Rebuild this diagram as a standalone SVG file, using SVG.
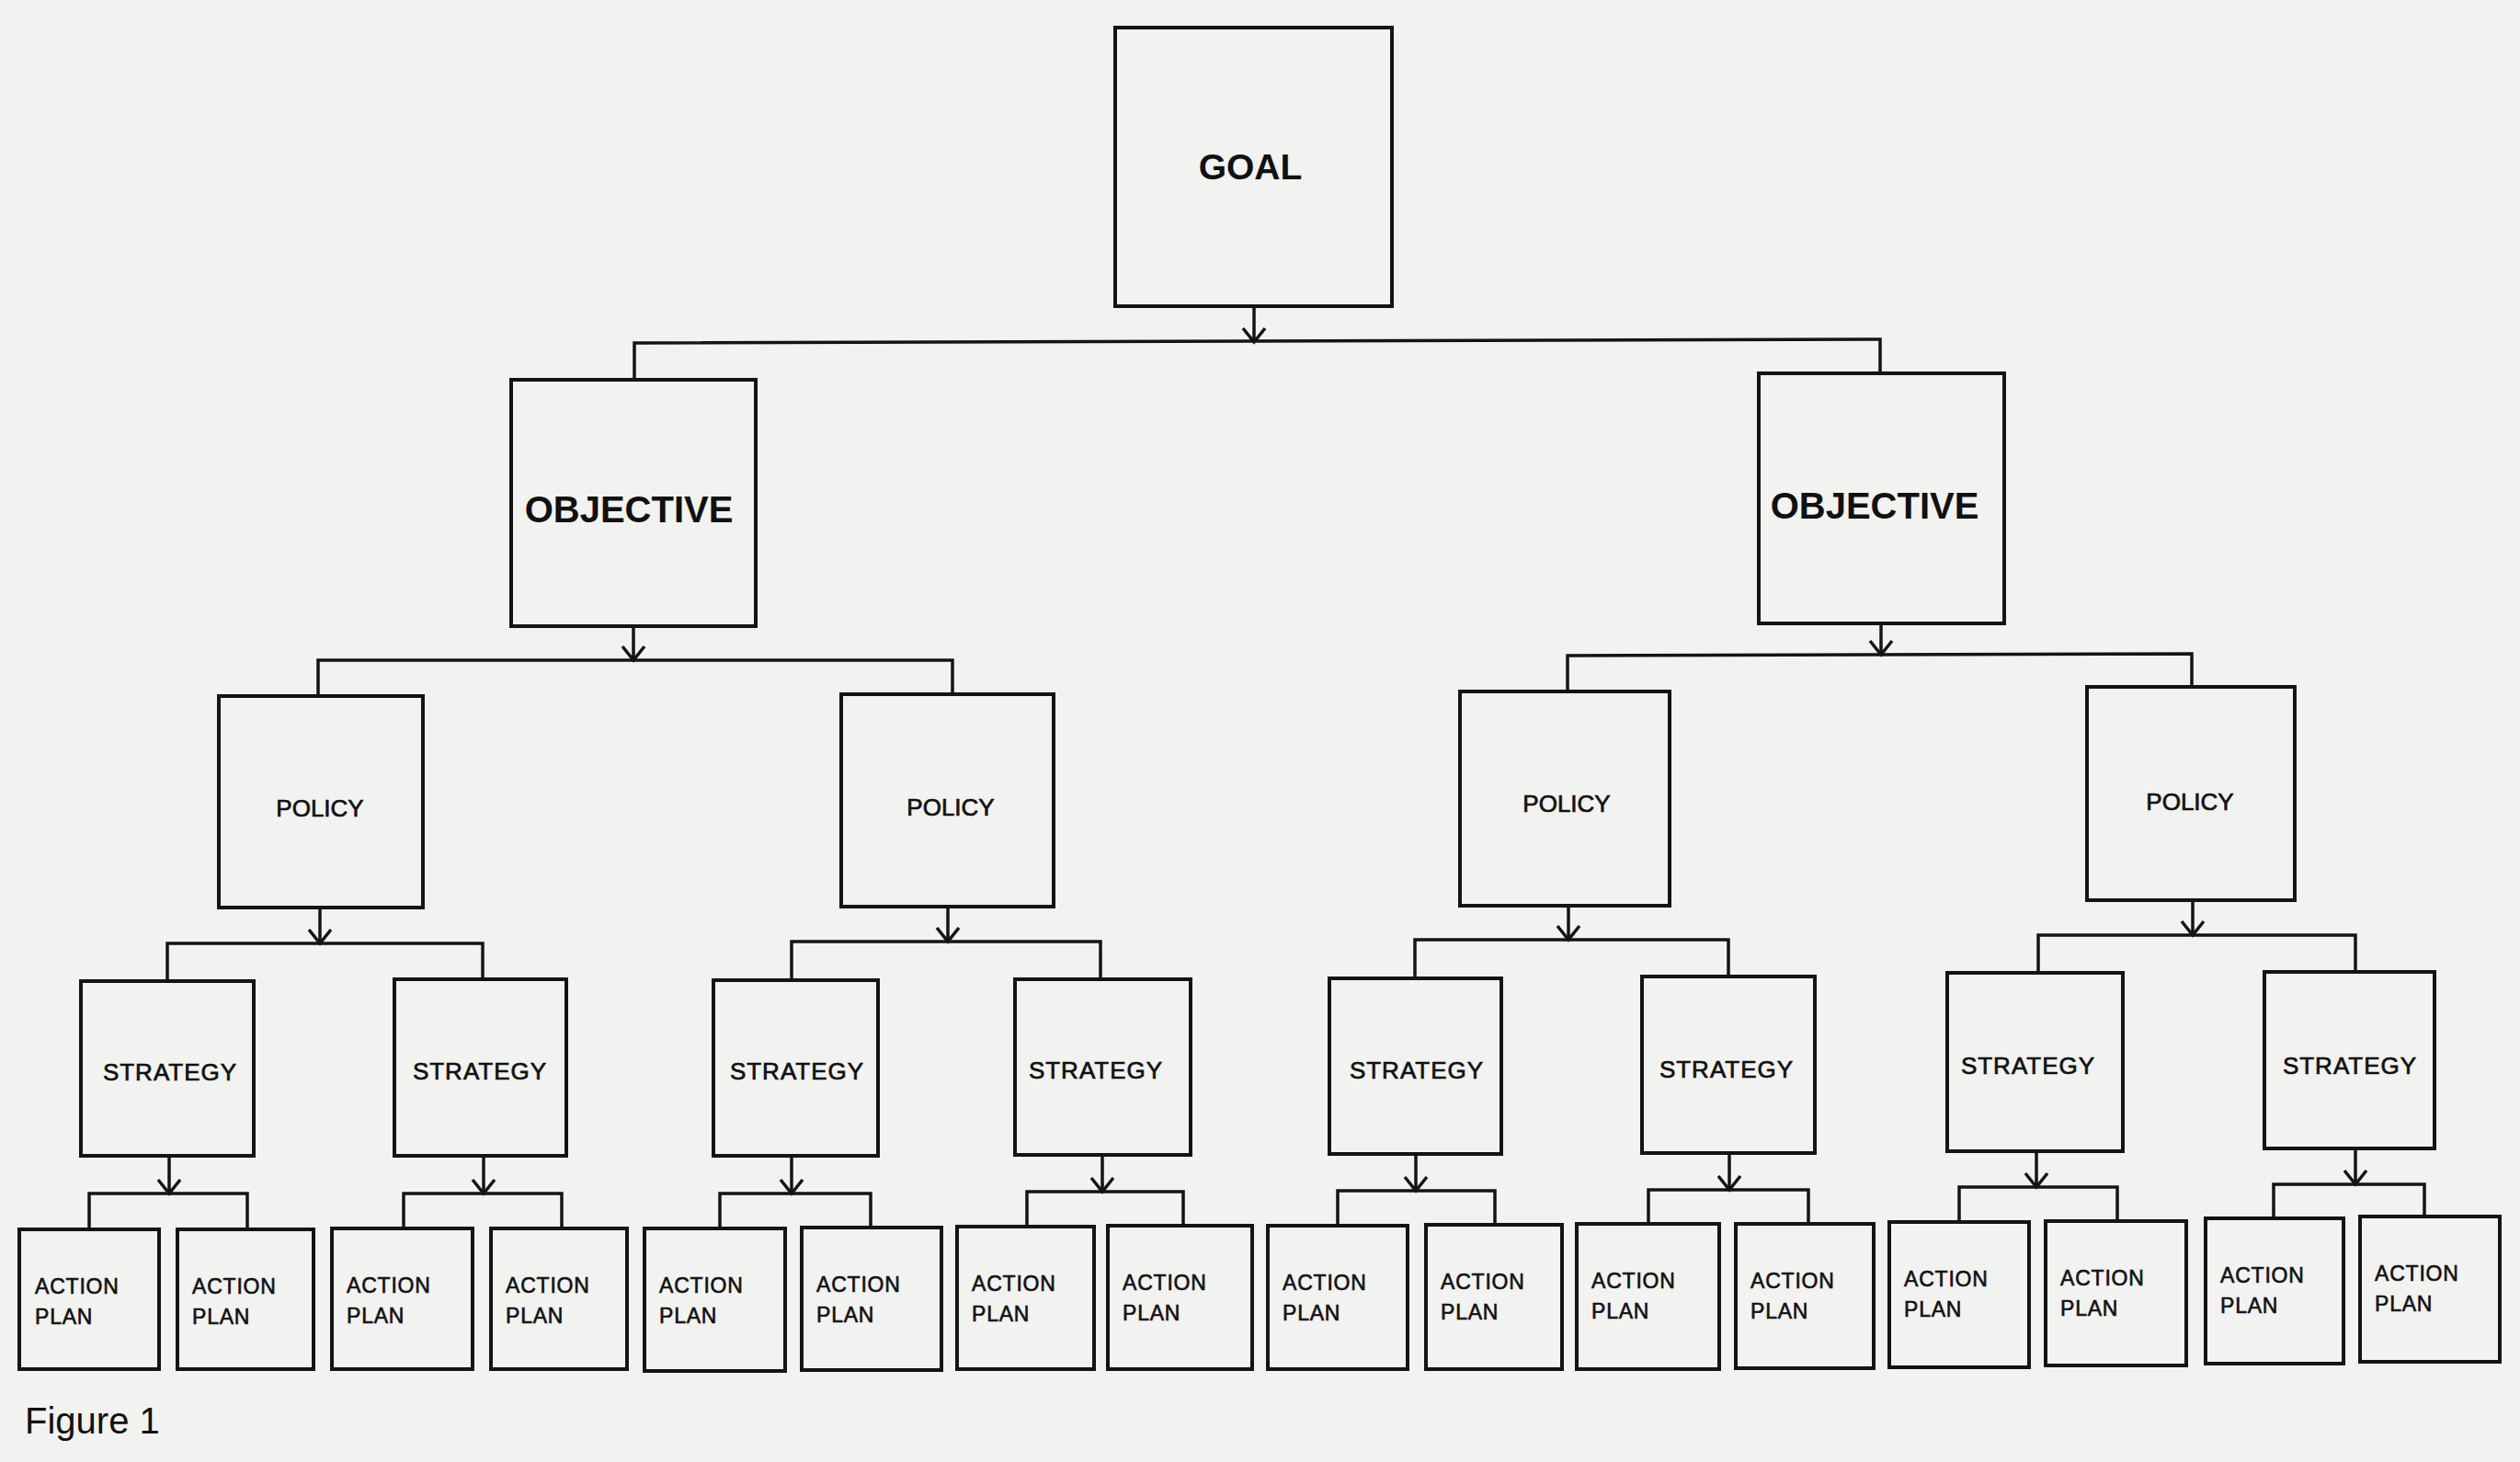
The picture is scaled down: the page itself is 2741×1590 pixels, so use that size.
<svg xmlns="http://www.w3.org/2000/svg" width="2741" height="1590" viewBox="0 0 2741 1590">
<style>
.box{fill:none;stroke:#141414;stroke-width:4}
.con{fill:none;stroke:#141414;stroke-width:3.5}
.t{font-family:"Liberation Sans",Arial,sans-serif;fill:#111}
.big{font-size:40px;font-weight:bold;text-anchor:middle}
.goal{font-size:39px;font-weight:bold;text-anchor:middle}
.pol{font-size:26px;text-anchor:middle;stroke:#111;stroke-width:0.7}
.str{font-size:26px;letter-spacing:1px;text-anchor:middle;stroke:#111;stroke-width:0.7}
.act{font-size:23px;letter-spacing:0.8px;stroke:#111;stroke-width:0.6}
.fig{font-size:40px}
</style>
<defs>
<marker id="arr" markerUnits="userSpaceOnUse" orient="auto" markerWidth="30" markerHeight="30" refX="0" refY="0" viewBox="-16 -15 20 30" overflow="visible">
<path d="M-15,-12 L0,0 L-15,12" fill="none" stroke="#141414" stroke-width="3.5"/>
</marker>
</defs>
<rect x="0" y="0" width="2741" height="1590" fill="#f2f2f0"/>

<g id="connectors">
<!-- goal -->
<path class="con" d="M1364,333 V372" marker-end="url(#arr)"/>
<path class="con" d="M690,413 V373 L2045,369 V406"/>
<!-- objectives -->
<path class="con" d="M689,681 V718" marker-end="url(#arr)"/>
<path class="con" d="M346,757 V718 H1036 V755"/>
<path class="con" d="M2046,678 V712" marker-end="url(#arr)"/>
<path class="con" d="M1705,752 V713 L2384,711 V747"/>
<!-- policies -->
<path class="con" d="M348,987 V1026" marker-end="url(#arr)"/>
<path class="con" d="M182,1067 V1026 H525 V1065"/>
<path class="con" d="M1031,986 V1024" marker-end="url(#arr)"/>
<path class="con" d="M861,1066 V1024 H1197 V1065"/>
<path class="con" d="M1706,985 V1022" marker-end="url(#arr)"/>
<path class="con" d="M1539,1064 V1022 H1880 V1062"/>
<path class="con" d="M2385,979 V1017" marker-end="url(#arr)"/>
<path class="con" d="M2217,1058 V1017 H2562 V1057"/>
<!-- strategies -->
<path class="con" d="M184,1257 V1298" marker-end="url(#arr)"/>
<path class="con" d="M97,1337 V1298 H269 V1337"/>
<path class="con" d="M526,1257 V1298" marker-end="url(#arr)"/>
<path class="con" d="M439,1336 V1298 H611 V1336"/>
<path class="con" d="M861,1257 V1298" marker-end="url(#arr)"/>
<path class="con" d="M783,1336 V1298 H947 V1335"/>
<path class="con" d="M1199,1256 V1296" marker-end="url(#arr)"/>
<path class="con" d="M1117,1334 V1296 H1287 V1333"/>
<path class="con" d="M1540,1255 V1295" marker-end="url(#arr)"/>
<path class="con" d="M1455,1333 V1295 H1626 V1332"/>
<path class="con" d="M1881,1254 V1294" marker-end="url(#arr)"/>
<path class="con" d="M1793,1331 V1294 H1967 V1331"/>
<path class="con" d="M2215,1252 V1291" marker-end="url(#arr)"/>
<path class="con" d="M2131,1329 V1291 H2303 V1328"/>
<path class="con" d="M2562,1249 V1288" marker-end="url(#arr)"/>
<path class="con" d="M2473,1325 V1288 H2637 V1323"/>
</g>

<g id="goal"><rect class="box" x="1213" y="30" width="301" height="303"/><text class="t goal" x="1360" y="195">GOAL</text></g>

<g id="objective-1"><rect class="box" x="556" y="413" width="266" height="268"/><text class="t big" x="684" y="568">OBJECTIVE</text></g>
<g id="objective-2"><rect class="box" x="1913" y="406" width="267" height="272"/><text class="t big" x="2039" y="564">OBJECTIVE</text></g>

<g id="policy-1"><rect class="box" x="238" y="757" width="222" height="230"/><text class="t pol" x="348" y="888">POLICY</text></g>
<g id="policy-2"><rect class="box" x="915" y="755" width="231" height="231"/><text class="t pol" x="1034" y="887">POLICY</text></g>
<g id="policy-3"><rect class="box" x="1588" y="752" width="228" height="233"/><text class="t pol" x="1704" y="883">POLICY</text></g>
<g id="policy-4"><rect class="box" x="2270" y="747" width="226" height="232"/><text class="t pol" x="2382" y="881">POLICY</text></g>

<g id="strategy-1"><rect class="box" x="88" y="1067" width="188" height="190"/><text class="t str" x="185" y="1175">STRATEGY</text></g>
<g id="strategy-2"><rect class="box" x="429" y="1065" width="187" height="192"/><text class="t str" x="522" y="1174">STRATEGY</text></g>
<g id="strategy-3"><rect class="box" x="776" y="1066" width="179" height="191"/><text class="t str" x="867" y="1174">STRATEGY</text></g>
<g id="strategy-4"><rect class="box" x="1104" y="1065" width="191" height="191"/><text class="t str" x="1192" y="1173">STRATEGY</text></g>
<g id="strategy-5"><rect class="box" x="1446" y="1064" width="187" height="191"/><text class="t str" x="1541" y="1173">STRATEGY</text></g>
<g id="strategy-6"><rect class="box" x="1786" y="1062" width="188" height="192"/><text class="t str" x="1878" y="1172">STRATEGY</text></g>
<g id="strategy-7"><rect class="box" x="2118" y="1058" width="191" height="194"/><text class="t str" x="2206" y="1168">STRATEGY</text></g>
<g id="strategy-8"><rect class="box" x="2463" y="1057" width="185" height="192"/><text class="t str" x="2556" y="1168">STRATEGY</text></g>

<g id="action-1"><rect class="box" x="21" y="1337" width="152" height="152"/><text class="t act" x="38" y="1407">ACTION</text><text class="t act" x="38" y="1440">PLAN</text></g>
<g id="action-2"><rect class="box" x="193" y="1337" width="148" height="152"/><text class="t act" x="209" y="1407">ACTION</text><text class="t act" x="209" y="1440">PLAN</text></g>
<g id="action-3"><rect class="box" x="361" y="1336" width="153" height="153"/><text class="t act" x="377" y="1406">ACTION</text><text class="t act" x="377" y="1439">PLAN</text></g>
<g id="action-4"><rect class="box" x="534" y="1336" width="148" height="153"/><text class="t act" x="550" y="1406">ACTION</text><text class="t act" x="550" y="1439">PLAN</text></g>
<g id="action-5"><rect class="box" x="701" y="1336" width="153" height="155"/><text class="t act" x="717" y="1406">ACTION</text><text class="t act" x="717" y="1439">PLAN</text></g>
<g id="action-6"><rect class="box" x="872" y="1335" width="152" height="155"/><text class="t act" x="888" y="1405">ACTION</text><text class="t act" x="888" y="1438">PLAN</text></g>
<g id="action-7"><rect class="box" x="1041" y="1334" width="149" height="155"/><text class="t act" x="1057" y="1404">ACTION</text><text class="t act" x="1057" y="1437">PLAN</text></g>
<g id="action-8"><rect class="box" x="1205" y="1333" width="157" height="156"/><text class="t act" x="1221" y="1403">ACTION</text><text class="t act" x="1221" y="1436">PLAN</text></g>
<g id="action-9"><rect class="box" x="1379" y="1333" width="152" height="156"/><text class="t act" x="1395" y="1403">ACTION</text><text class="t act" x="1395" y="1436">PLAN</text></g>
<g id="action-10"><rect class="box" x="1551" y="1332" width="148" height="157"/><text class="t act" x="1567" y="1402">ACTION</text><text class="t act" x="1567" y="1435">PLAN</text></g>
<g id="action-11"><rect class="box" x="1715" y="1331" width="155" height="158"/><text class="t act" x="1731" y="1401">ACTION</text><text class="t act" x="1731" y="1434">PLAN</text></g>
<g id="action-12"><rect class="box" x="1888" y="1331" width="150" height="157"/><text class="t act" x="1904" y="1401">ACTION</text><text class="t act" x="1904" y="1434">PLAN</text></g>
<g id="action-13"><rect class="box" x="2055" y="1329" width="152" height="158"/><text class="t act" x="2071" y="1399">ACTION</text><text class="t act" x="2071" y="1432">PLAN</text></g>
<g id="action-14"><rect class="box" x="2225" y="1328" width="153" height="157"/><text class="t act" x="2241" y="1398">ACTION</text><text class="t act" x="2241" y="1431">PLAN</text></g>
<g id="action-15"><rect class="box" x="2399" y="1325" width="150" height="158"/><text class="t act" x="2415" y="1395">ACTION</text><text class="t act" x="2415" y="1428">PLAN</text></g>
<g id="action-16"><rect class="box" x="2567" y="1323" width="152" height="158"/><text class="t act" x="2583" y="1393">ACTION</text><text class="t act" x="2583" y="1426">PLAN</text></g>

<text class="t fig" x="27" y="1559">Figure 1</text>
</svg>
